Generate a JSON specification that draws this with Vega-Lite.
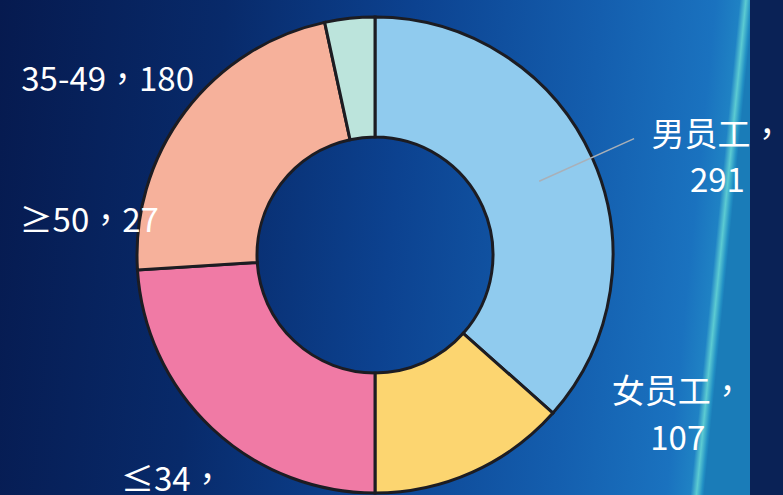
{
  "$schema": "https://vega.github.io/schema/vega-lite/v6.json",
  "width": 750,
  "height": 510,
  "autosize": {"type": "none"},
  "padding": {"left": 0, "top": 0, "right": 33, "bottom": 0},
  "background": "#0a2256",
  "config": {"view": {"stroke": null}},
  "layer": [
    {
      "data": {"values": [{}]},
      "mark": {
        "type": "rect",
        "fill": {
          "gradient": "linear",
          "x1": 0, "y1": 0, "x2": 1, "y2": 0.068,
          "stops": [
            {"offset": 0, "color": "#061a4f"},
            {"offset": 0.3, "color": "#082a6a"},
            {"offset": 0.55, "color": "#0c4290"},
            {"offset": 0.8, "color": "#145eae"},
            {"offset": 0.95, "color": "#1a72bf"},
            {"offset": 0.982, "color": "#1f82c4"},
            {"offset": 0.99, "color": "#5ccbd2"},
            {"offset": 0.997, "color": "#2290c4"},
            {"offset": 1, "color": "#1a7cb8"}
          ]
        }
      }
    },
    {
      "data": {
        "values": [
          {"group": "男员工", "value": 291, "idx": 1},
          {"group": "女员工", "value": 107, "idx": 2},
          {"group": "≤34", "value": 191, "idx": 3},
          {"group": "35-49", "value": 180, "idx": 4},
          {"group": "≥50", "value": 27, "idx": 5}
        ]
      },
      "transform": [
        {"calculate": "datum.group + '，' + datum.value", "as": "lbl1"},
        {"calculate": "[datum.group + '，', '' + datum.value]", "as": "lbl2"}
      ],
      "encoding": {
        "theta": {"field": "value", "type": "quantitative", "stack": true},
        "order": {"field": "idx", "type": "quantitative"}
      },
      "layer": [
        {
          "mark": {"type": "arc", "outerRadius": 238, "innerRadius": 118, "stroke": "#1c1c22", "strokeWidth": 3},
          "encoding": {
            "color": {
              "field": "group",
              "type": "nominal",
              "scale": {
                "domain": ["男员工", "女员工", "≤34", "35-49", "≥50"],
                "range": ["#90cbee", "#fcd570", "#f07aa5", "#f6b19b", "#bce4dc"]
              },
              "legend": null
            }
          }
        },
        {
          "mark": {"type": "arc", "outerRadius": 284, "innerRadius": 180, "padAngle": 3.14, "filled": false, "stroke": "#a9b0b8", "strokeWidth": 1.5},
          "encoding": {
            "strokeOpacity": {"condition": {"test": "datum.group === '男员工'", "value": 1}, "value": 0}
          }
        },
        {
          "mark": {"type": "text", "radius": 280, "font": "Noto Sans CJK TC", "fontSize": 33, "fill": "#ffffff", "align": "center", "baseline": "middle", "lineHeight": 46, "dx": 87, "dy": -4},
          "encoding": {"text": {"condition": {"test": "datum.group === '男员工'", "field": "lbl2"}, "value": ""}}
        },
        {
          "mark": {"type": "text", "radius": 280, "font": "Noto Sans CJK TC", "fontSize": 33, "fill": "#ffffff", "align": "center", "baseline": "middle", "lineHeight": 47, "dx": 188, "dy": -117},
          "encoding": {"text": {"condition": {"test": "datum.group === '女员工'", "field": "lbl2"}, "value": ""}}
        },
        {
          "mark": {"type": "text", "radius": 280, "font": "Noto Sans CJK TC", "fontSize": 33, "fill": "#ffffff", "align": "center", "baseline": "middle", "lineHeight": 46, "dx": -11, "dy": 22},
          "encoding": {"text": {"condition": {"test": "datum.group === '≤34'", "field": "lbl2"}, "value": ""}}
        },
        {
          "mark": {"type": "text", "radius": 280, "font": "Noto Sans CJK TC", "fontSize": 33, "fill": "#ffffff", "align": "center", "baseline": "middle", "dx": -44, "dy": -5},
          "encoding": {"text": {"condition": {"test": "datum.group === '35-49'", "field": "lbl1"}, "value": ""}}
        },
        {
          "mark": {"type": "text", "radius": 280, "font": "Noto Sans CJK TC", "fontSize": 33, "fill": "#ffffff", "align": "center", "baseline": "middle", "dx": -256, "dy": 245},
          "encoding": {"text": {"condition": {"test": "datum.group === '≥50'", "field": "lbl1"}, "value": ""}}
        }
      ]
    }
  ]
}
